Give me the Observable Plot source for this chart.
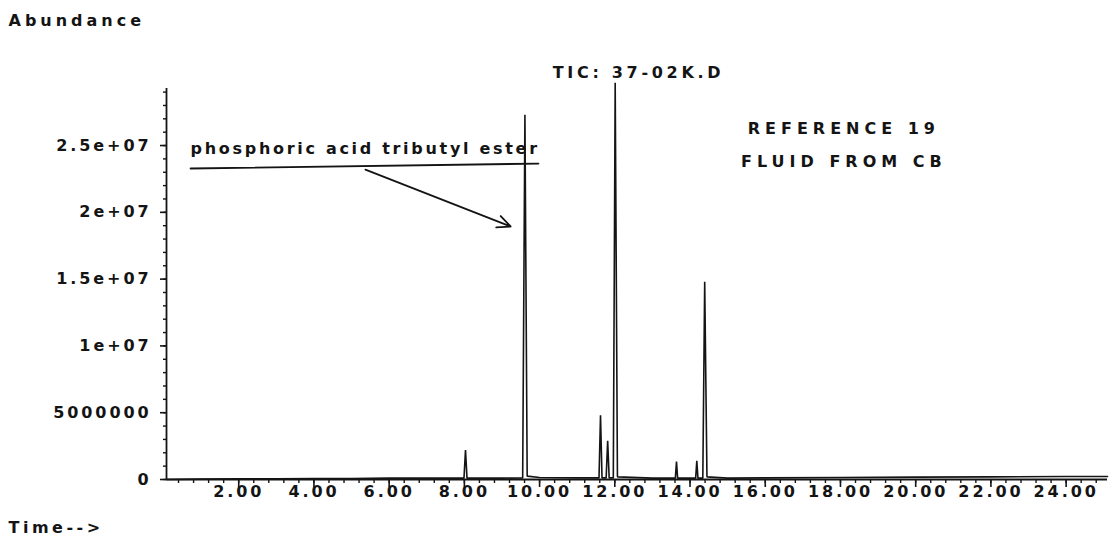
<!DOCTYPE html>
<html>
<head>
<meta charset="utf-8">
<script src="https://cdn.jsdelivr.net/npm/d3@7"></script>
<script src="https://cdn.jsdelivr.net/npm/@observablehq/plot@0.6"></script>
<style>
  html, body { margin: 0; padding: 0; background: #fff; }
  #chart svg { background: #fff; }
</style>
</head>
<body>
<div id="chart"></div>
<script>
// Total ion chromatogram trace: retention time (min) and abundance (counts)
const time = [
  0.08, 1.0, 2.0, 3.0, 4.0, 5.0, 6.0, 7.0,
  7.99, 8.03, 8.07,
  9.0, 9.55, 9.61, 9.67,
  10.0, 11.0, 11.58, 11.62, 11.66,
  11.77, 11.81, 11.85,
  11.96, 12.01, 12.07,
  13.0, 13.61, 13.64, 13.67,
  14.15, 14.18, 14.21,
  14.34, 14.39, 14.45,
  15.0, 16.0, 18.0, 20.0, 22.0, 24.0, 25.1
];
const abundance = [
  0, 0.03e6, 0.06e6, 0.06e6, 0.08e6, 0.08e6, 0.1e6, 0.1e6,
  0.1e6, 2.2e6, 0.1e6,
  0.1e6, 0.12e6, 27.3e6, 0.25e6,
  0.15e6, 0.12e6, 0.12e6, 4.8e6, 0.12e6,
  0.12e6, 2.9e6, 0.12e6,
  0.12e6, 29.7e6, 0.2e6,
  0.1e6, 0.1e6, 1.35e6, 0.1e6,
  0.1e6, 1.4e6, 0.1e6,
  0.1e6, 14.8e6, 0.2e6,
  0.1e6, 0.12e6, 0.15e6, 0.18e6, 0.2e6, 0.22e6, 0.22e6
];

// Axis ticks and their printed labels
const xTicks = [2, 4, 6, 8, 10, 12, 14, 16, 18, 20, 22, 24];
const xTickLabels = ["2.00", "4.00", "6.00", "8.00", "10.00", "12.00", "14.00", "16.00", "18.00", "20.00", "22.00", "24.00"];
const yTicks = [0, 5e6, 10e6, 15e6, 20e6, 25e6];
const yTickLabels = ["0", "5000000", "1e+07", "1.5e+07", "2e+07", "2.5e+07"];
const xMinorTicks = d3.range(1, 63).map(k => k * 0.4);
const yMinorTicks = d3.range(0, 30).map(k => k * 1e6);

// Annotations
const runTitle = ["TIC: 37-02K.D"];
const runTitleTime = [12.63];
const runTitleAbund = [30.46e6];

const sampleNote = ["REFERENCE 19", "FLUID FROM CB"];
const sampleNoteTime = [18.09, 18.09];
const sampleNoteAbund = [26.27e6, 23.80e6];

const peakLabel = ["phosphoric acid tributyl ester"];
const peakLabelTime = [0.72];
const peakLabelAbund = [24.78e6];

const underlineTime = [0.72, 9.97];
const underlineAbund = [23.28e6, 23.65e6];

const arrowFrom = [5.37, 23.2e6];
const arrowTo = [9.23, 18.94e6];

const yTitle = ["Abundance"];
const xTitle = ["Time-->"];

const trace = time.map((t, i) => ({t, a: abundance[i]}));
const ink = "#141414";
const blank = () => "";

const chart = Plot.plot({
  width: 1109,
  height: 536,
  marginLeft: 166,
  marginRight: 2,
  marginTop: 88,
  marginBottom: 57,
  style: {
    fontFamily: "DejaVu Sans",
    fontSize: "16px",
    fontWeight: "bold",
    letterSpacing: "2.9px",
    color: ink,
    background: "#fff"
  },
  x: {domain: [0.08, 25.1], axis: null},
  y: {domain: [0, 29.27e6], axis: null},
  marks: [
    // axis lines
    Plot.ruleX([0.08], {stroke: ink, strokeWidth: 1.8}),
    Plot.ruleY([0], {stroke: ink, strokeWidth: 1.8}),
    // x ticks
    Plot.axisX({ticks: xMinorTicks, tickSize: 4, tickFormat: blank, label: null, stroke: ink, strokeWidth: 1.4}),
    Plot.axisX({ticks: xTicks, tickSize: 8, tickFormat: blank, label: null, stroke: ink, strokeWidth: 1.6}),
    Plot.axisX({ticks: xTicks, tickSize: 0, tickPadding: 6, label: null, fill: ink,
      tickFormat: d => xTickLabels[xTicks.indexOf(d)]}),
    // y ticks
    Plot.axisY({ticks: yMinorTicks, tickSize: 3, tickFormat: blank, label: null, stroke: ink, strokeWidth: 1.4}),
    Plot.axisY({ticks: yTicks, tickSize: 6, tickPadding: 9, label: null, stroke: ink, strokeWidth: 1.6, fill: ink,
      tickFormat: d => yTickLabels[yTicks.indexOf(d)]}),
    // chromatogram
    Plot.line(trace, {x: "t", y: "a", stroke: ink, strokeWidth: 1.6, strokeLinejoin: "miter"}),
    // annotations
    Plot.text(runTitle, {x: runTitleTime, y: runTitleAbund, text: d => d, fill: ink}),
    Plot.text(sampleNote, {x: sampleNoteTime, y: sampleNoteAbund, text: d => d, fill: ink}),
    Plot.text(peakLabel, {x: peakLabelTime, y: peakLabelAbund, text: d => d, textAnchor: "start", fill: ink}),
    Plot.line(underlineTime.map((t, i) => ({t, a: underlineAbund[i]})), {x: "t", y: "a", stroke: ink, strokeWidth: 1.8}),
    Plot.arrow([{x1: arrowFrom[0], y1: arrowFrom[1], x2: arrowTo[0], y2: arrowTo[1]}],
      {x1: "x1", y1: "y1", x2: "x2", y2: "y2", stroke: ink, strokeWidth: 1.8, headLength: 12, headAngle: 50}),
    // axis titles
    Plot.text(yTitle, {frameAnchor: "top-left", lineAnchor: "middle", textAnchor: "start", dx: -158, dy: -68, fill: ink}),
    Plot.text(xTitle, {frameAnchor: "bottom-left", lineAnchor: "middle", textAnchor: "start", dx: -158, dy: 48, fill: ink})
  ]
});

// per-label tracking for the header notes, peak label and axis titles
const spacing = new Map([
  ...sampleNote.map(s => [s, "5px"]),
  ...runTitle.map(s => [s, "3.7px"]),
  ...peakLabel.map(s => [s, "2.7px"]),
  ...yTitle.map(s => [s, "4px"]),
  ...xTitle.map(s => [s, "3.5px"])
]);
d3.select(chart).selectAll("text").each(function() {
  const ls = spacing.get(this.textContent);
  if (ls) this.style.letterSpacing = ls;
});

document.getElementById("chart").appendChild(chart);
</script>
</body>
</html>
